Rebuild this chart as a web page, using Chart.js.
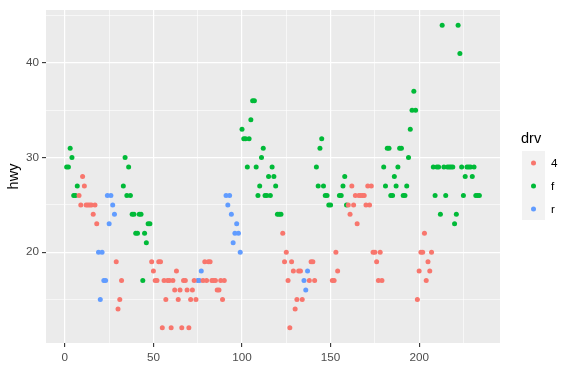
<!DOCTYPE html>
<html>
<head>
<meta charset="utf-8">
<script src="https://cdn.jsdelivr.net/npm/chart.js@4.4.1/dist/chart.umd.min.js"></script>
<style>
  html, body { margin: 0; padding: 0; background: #ffffff; }
  #wrap { width: 574px; height: 388px; }
</style>
</head>
<body>
<div id="wrap"><canvas id="chart" width="574" height="388"></canvas></div>
<script>
// hwy per row of the data, in row order
const hwy = [
  29, 29, 31, 30, 26, 26, 27, 26, 25, 28, 27, 25, 25, 25, 25, 24, 25, 23, 20, 15,
  20, 17, 17, 26, 23, 26, 25, 24, 19, 14, 15, 17, 27, 30, 26, 29, 26, 24, 24, 22,
  22, 24, 24, 17, 22, 21, 23, 23, 19, 18, 17, 17, 19, 19, 12, 17, 15, 17, 17, 12,
  17, 16, 18, 15, 16, 12, 17, 17, 16, 12, 15, 16, 17, 15, 17, 17, 18, 17, 19, 17,
  19, 19, 17, 17, 17, 16, 16, 17, 15, 17, 26, 25, 26, 24, 21, 22, 23, 22, 20, 33,
  32, 32, 29, 32, 34, 36, 36, 29, 26, 27, 30, 31, 26, 26, 28, 26, 29, 28, 27, 24,
  24, 24, 22, 19, 20, 17, 12, 19, 18, 14, 15, 18, 18, 15, 17, 16, 18, 17, 19, 19,
  17, 29, 27, 31, 32, 27, 26, 26, 25, 25, 17, 17, 20, 18, 26, 26, 27, 28, 25, 25,
  24, 27, 25, 26, 23, 26, 26, 26, 26, 25, 27, 25, 27, 20, 20, 19, 17, 20, 17, 29,
  27, 31, 31, 26, 26, 28, 27, 29, 31, 31, 26, 26, 27, 30, 33, 35, 37, 35, 15, 18,
  20, 20, 22, 17, 19, 18, 20, 29, 26, 29, 29, 24, 44, 29, 26, 29, 29, 29, 29, 23,
  24, 44, 41, 29, 26, 28, 29, 29, 29, 28, 29, 26, 26, 26
];

// drive type per row, same order
const drv = [
  "f","f","f","f","f","f","f","4","4","4","4","4","4","4","4","4","4","4","r","r",
  "r","r","r","r","r","r","r","r","4","4","4","4","f","f","f","f","f","f","f","f",
  "f","f","f","f","f","f","f","f","4","4","4","4","4","4","4","4","4","4","4","4",
  "4","4","4","4","4","4","4","4","4","4","4","4","4","4","r","r","r","4","4","4",
  "4","4","4","4","4","4","4","4","4","4","r","r","r","r","r","r","r","r","r","f",
  "f","f","f","f","f","f","f","f","f","f","f","f","f","f","f","f","f","f","f","f",
  "f","f","4","4","4","4","4","4","4","4","4","4","4","4","r","r","r","4","4","4",
  "4","f","f","f","f","f","f","f","f","f","4","4","4","4","f","f","f","f","f","4",
  "4","4","4","4","4","4","4","4","4","4","4","4","4","4","4","4","4","4","4","f",
  "f","f","f","f","f","f","f","f","f","f","f","f","f","f","f","f","f","f","4","4",
  "4","4","4","4","4","4","4","f","f","f","f","f","f","f","f","f","f","f","f","f",
  "f","f","f","f","f","f","f","f","f","f","f","f","f","f"
];

const drvLevels = ["4", "f", "r"];
const drvColors = ["#F8766D", "#00BA38", "#619CFF"];

// axis breaks
const xMajor = [0, 50, 100, 150, 200];
const xMinor = [25, 75, 125, 175, 225];
const yMajor = [20, 30, 40];
const yMinor = [15, 25, 35, 45];

const FONT = "'Liberation Sans', Arial, sans-serif";
const DOT = 2.5;

// one dataset per drive type, x is the row number
const datasets = drvLevels.map((lvl, k) => ({
  label: lvl,
  data: hwy
    .map((v, i) => ({ x: i + 1, y: v, d: drv[i] }))
    .filter((p) => p.d === lvl),
  backgroundColor: drvColors[k],
  borderWidth: 0,
  pointRadius: DOT,
  pointHoverRadius: DOT,
}));

// grey panel behind the grid
const panelBg = {
  id: "panelBg",
  beforeDraw(chart) {
    const { ctx, chartArea: a } = chart;
    ctx.save();
    ctx.fillStyle = "#EBEBEB";
    ctx.fillRect(a.left, a.top, a.right - a.left, a.bottom - a.top);
    ctx.restore();
  },
};

// ggplot style legend on the right
const drvLegend = {
  id: "drvLegend",
  afterDraw(chart) {
    const ctx = chart.ctx;
    ctx.save();
    ctx.fillStyle = "#000000";
    ctx.font = "14.5px " + FONT;
    ctx.textBaseline = "middle";
    ctx.textAlign = "left";
    ctx.fillText("drv", 521, 139);

    ctx.fillStyle = "#F2F2F2";
    ctx.fillRect(522, 151, 23, 69);

    drvLevels.forEach((lvl, k) => {
      const cy = 163 + k * 23;
      ctx.beginPath();
      ctx.arc(533.5, cy, DOT, 0, Math.PI * 2);
      ctx.fillStyle = drvColors[k];
      ctx.fill();
      ctx.fillStyle = "#000000";
      ctx.font = "11.7px " + FONT;
      ctx.fillText(lvl, 551, cy + 1);
    });
    ctx.restore();
  },
};

const isMajor = (list, v) => list.indexOf(v) !== -1;

new Chart(document.getElementById("chart"), {
  type: "scatter",
  data: { datasets },
  options: {
    responsive: false,
    animation: false,
    devicePixelRatio: 1,
    layout: { padding: { top: 7, right: 74, left: 0, bottom: 0 } },
    plugins: {
      legend: { display: false },
      tooltip: { enabled: false },
    },
    events: [],
    scales: {
      x: {
        type: "linear",
        min: -10.65,
        max: 245.65,
        afterBuildTicks: (s) => {
          s.ticks = xMajor.concat(xMinor).sort((a, b) => a - b).map((v) => ({ value: v }));
        },
        afterFit: (s) => { s.height = 45; },
        border: { display: false },
        grid: {
          color: "#FFFFFF",
          lineWidth: (c) => (isMajor(xMajor, c.tick.value) ? 1.2 : 0.6),
          tickColor: (c) => (isMajor(xMajor, c.tick.value) ? "#333333" : "rgba(0,0,0,0)"),
          tickLength: 4,
          tickWidth: 1.1,
        },
        ticks: {
          autoSkip: false,
          maxRotation: 0,
          padding: 4,
          color: "#4D4D4D",
          font: { family: FONT, size: 11.7 },
          callback: (v) => (isMajor(xMajor, v) ? String(v) : ""),
        },
      },
      y: {
        type: "linear",
        min: 10.4,
        max: 45.6,
        afterBuildTicks: (s) => {
          s.ticks = yMajor.concat(yMinor).sort((a, b) => a - b).map((v) => ({ value: v }));
        },
        afterFit: (s) => { s.width = 46; },
        border: { display: false },
        title: {
          display: true,
          text: "hwy",
          color: "#000000",
          font: { family: FONT, size: 14.5 },
          padding: { top: 5, bottom: 0 },
        },
        grid: {
          color: "#FFFFFF",
          lineWidth: (c) => (isMajor(yMajor, c.tick.value) ? 1.2 : 0.6),
          tickColor: (c) => (isMajor(yMajor, c.tick.value) ? "#333333" : "rgba(0,0,0,0)"),
          tickLength: 4,
          tickWidth: 1.1,
        },
        ticks: {
          autoSkip: false,
          padding: 3,
          color: "#4D4D4D",
          font: { family: FONT, size: 11.7 },
          callback: (v) => (isMajor(yMajor, v) ? String(v) : ""),
        },
      },
    },
  },
  plugins: [panelBg, drvLegend],
});
</script>
</body>
</html>
